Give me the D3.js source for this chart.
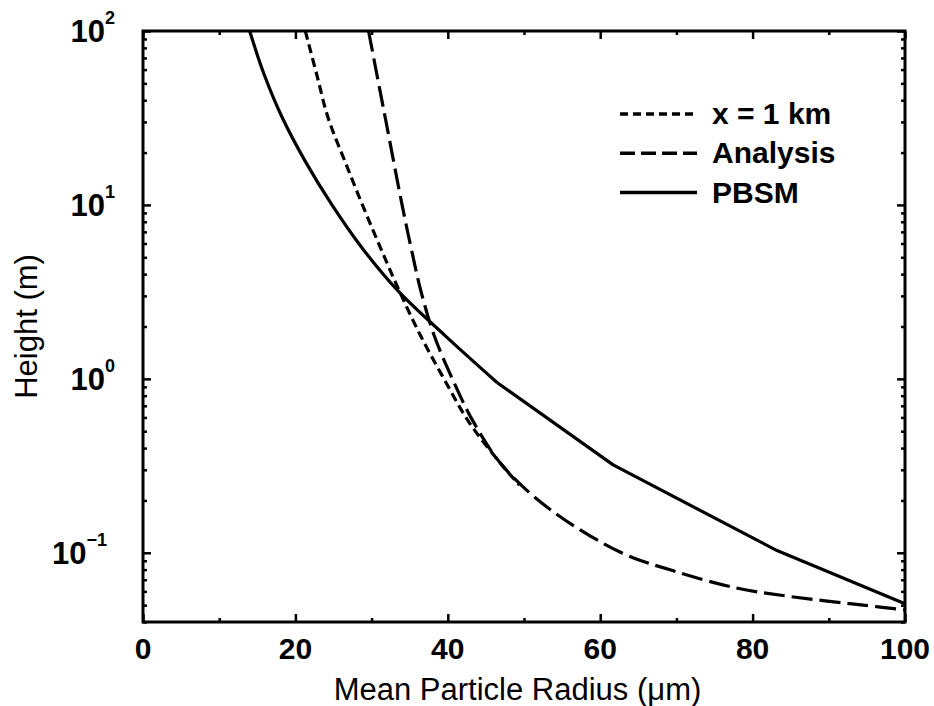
<!DOCTYPE html>
<html lang="en">

<head>
    <meta charset="UTF-8">
    <title>Mean particle radius vs height</title>
    <script src="https://d3js.org/d3.v7.min.js"></script>
    <style>
        body {
            margin: 0;
            background: #fff;
        }

        text {
            font-family: "Liberation Sans", Arial, Helvetica, sans-serif;
            fill: #000;
        }
    </style>
</head>

<body>
    <svg id="chart" width="934" height="706"></svg>

    <script>
        // values (radius in um, height in m)
        // PBSM: smooth upper part, then straight pieces below ~1 m
        const pbsmUpperRadius = [14.0, 15.9, 18.3, 21.3, 24.8, 28.8, 33.6, 39.6, 46.5];
        const pbsmUpperHeight = [100, 56.2, 31.6, 17.8, 10, 5.62, 3.16, 1.78, 0.95];
        const pbsmLowerRadius = [46.5, 61.7, 83.2, 100];
        const pbsmLowerHeight = [0.95, 0.32, 0.103, 0.051];

        const kmRadius = [21.3, 22.8, 24.3, 26.5, 28.8, 31.2, 33.7, 36.4, 39.5, 42.8, 47.2, 49.4];
        const kmHeight = [100, 56.2, 31.6, 17.8, 10, 5.62, 3.16, 1.78, 1, 0.562, 0.316, 0.245];

        const analysisRadius = [29.6, 30.7, 31.8, 34.0, 35.2, 36.5, 38.2, 40.6, 43.4, 47.2, 53.4, 62.8, 69.5, 77.7, 85.0, 94.5, 100];
        const analysisHeight = [100, 56, 31.6, 10, 5.62, 3.16, 1.78, 1, 0.562, 0.316, 0.178, 0.1, 0.079, 0.063, 0.056, 0.050, 0.047];

        const xMajor = [0, 20, 40, 60, 80, 100];
        const xMinor = [10, 30, 50, 70, 90];
        const yExponents = [2, 1, 0, -1];

        const legendNames = ["x = 1 km", "Analysis", "PBSM"];

        var margin = { top: 31, right: 29, bottom: 84, left: 143 };
        var width = 934 - margin.left - margin.right;
        var height = 706 - margin.top - margin.bottom;

        var svg = d3.select("#chart")
            .append("g")
            .attr("transform", `translate(${margin.left}, ${margin.top})`);

        const x = d3.scaleLinear().domain([0, 100]).range([0, width]);
        const y = d3.scaleLog().domain([0.04, 100]).range([height, 0]);

        // minor ticks of the log axis: 2..9 x 10^k
        const yMajor = yExponents.map(e => Math.pow(10, e));
        const yMinor = [];
        [-2, -1, 0, 1].forEach(e => {
            for (let m = 2; m <= 9; m++) {
                const v = m * Math.pow(10, e);
                if (v >= 0.04 && v <= 100) yMinor.push(v);
            }
        });

        function tickAxis(axis, cls, tr) {
            const g = svg.append("g").attr("class", cls);
            if (tr) g.attr("transform", tr);
            g.call(axis);
            g.select(".domain").remove();
            g.selectAll("text").remove();
            g.selectAll("line").attr("stroke", "#000").attr("stroke-width", 2.5);
        }

        // ticks point inward on all four sides
        tickAxis(d3.axisBottom(x).tickValues(xMajor).tickSize(-8), "xb", `translate(0, ${height})`);
        tickAxis(d3.axisBottom(x).tickValues(xMinor).tickSize(-4), "xb2", `translate(0, ${height})`);
        tickAxis(d3.axisTop(x).tickValues(xMajor).tickSize(-8), "xt");
        tickAxis(d3.axisTop(x).tickValues(xMinor).tickSize(-4), "xt2");
        tickAxis(d3.axisLeft(y).tickValues(yMajor).tickSize(-8), "yl");
        tickAxis(d3.axisLeft(y).tickValues(yMinor).tickSize(-4), "yl2");
        tickAxis(d3.axisRight(y).tickValues(yMajor).tickSize(-8), "yr", `translate(${width}, 0)`);
        tickAxis(d3.axisRight(y).tickValues(yMinor).tickSize(-4), "yr2", `translate(${width}, 0)`);

        // frame
        svg.append("rect")
            .attr("width", width)
            .attr("height", height)
            .attr("fill", "none")
            .attr("stroke", "#000")
            .attr("stroke-width", 3);

        // x tick labels
        svg.selectAll(".xlab")
            .data(xMajor)
            .join("text")
            .attr("class", "xlab")
            .attr("x", d => x(d))
            .attr("y", height + 37)
            .attr("text-anchor", "middle")
            .style("font-size", "30px")
            .style("font-weight", "bold")
            .text(d => d);

        // y tick labels 10^n
        const ylab = svg.selectAll(".ylab")
            .data(yExponents)
            .join("text")
            .attr("class", "ylab")
            .attr("x", d => (d < 0 ? -36 : -28))
            .attr("y", d => y(Math.pow(10, d)) + 11)
            .attr("text-anchor", "end")
            .style("font-weight", "bold");
        ylab.append("tspan").style("font-size", "31px").text("10");
        ylab.append("tspan")
            .attr("dy", -18)
            .style("font-size", "18px")
            .text(d => (d < 0 ? "\u2212" + (-d) : d));

        // axis titles
        svg.append("text")
            .attr("x", width / 2 - 6.5)
            .attr("y", height + 78)
            .attr("text-anchor", "middle")
            .style("font-size", "31px")
            .text("Mean Particle Radius (\u03bcm)");

        svg.append("text")
            .attr("transform", `translate(${37 - margin.left}, ${height / 2}) rotate(-90)`)
            .attr("text-anchor", "middle")
            .style("font-size", "31px")
            .text("Height (m)");

        // curves
        const paths = [
            { r: kmRadius, h: kmHeight, dash: "9,5", curve: d3.curveCatmullRom },
            { r: analysisRadius, h: analysisHeight, dash: "21,7", curve: d3.curveCatmullRom },
            { r: pbsmUpperRadius, h: pbsmUpperHeight, dash: null, curve: d3.curveCatmullRom },
            { r: pbsmLowerRadius, h: pbsmLowerHeight, dash: null, curve: d3.curveLinear }
        ];

        paths.forEach(s => {
            const pts = s.r.map((r, i) => [r, s.h[i]]);
            const line = d3.line()
                .x(d => x(d[0]))
                .y(d => y(d[1]))
                .curve(s.curve);
            svg.append("path")
                .datum(pts)
                .attr("d", line)
                .attr("fill", "none")
                .attr("stroke", "#000")
                .attr("stroke-width", 3.2)
                .attr("stroke-linejoin", "round")
                .attr("stroke-dasharray", s.dash);
        });

        // legend
        const legendDash = ["8,5", "15,6", null];
        const legend = svg.append("g")
            .attr("transform", `translate(${620 - margin.left}, ${114 - margin.top})`);

        legendNames.forEach((name, i) => {
            legend.append("line")
                .attr("x1", 0)
                .attr("x2", 77)
                .attr("y1", i * 39.3)
                .attr("y2", i * 39.3)
                .attr("stroke", "#000")
                .attr("stroke-width", 3.5)
                .attr("stroke-dasharray", legendDash[i]);
            legend.append("text")
                .attr("x", 92)
                .attr("y", i * 39.3 + 10)
                .style("font-size", "30px")
                .style("font-weight", "bold")
                .text(name);
        });
    </script>
</body>

</html>
